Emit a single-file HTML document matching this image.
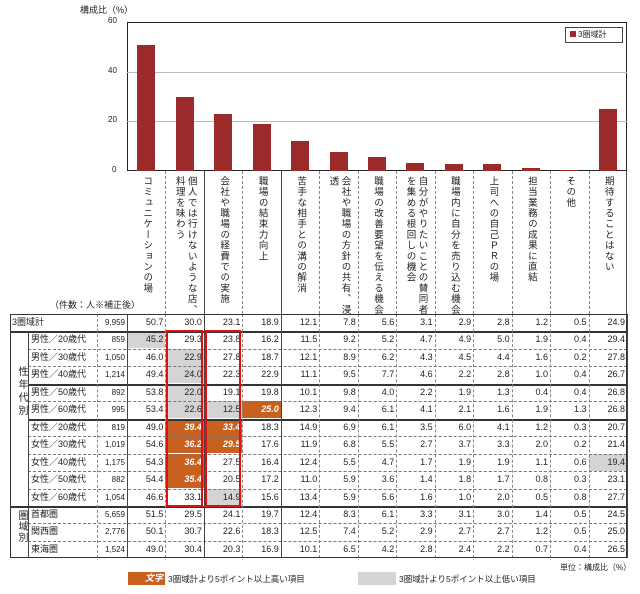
<!DOCTYPE html><html><head><meta charset="utf-8"><style>
body{margin:0;background:#fff;width:640px;height:594px;position:relative;overflow:hidden;font-family:"Liberation Sans","Noto Sans CJK JP",sans-serif;color:#222}
.a{position:absolute}
.lab{position:absolute;top:176px;writing-mode:vertical-rl;font-size:9.5px;letter-spacing:1.2px;line-height:12px}
.c{position:absolute;font-size:9px;text-align:right;line-height:17px;height:17px;box-sizing:border-box;padding-right:2px}
</style></head><body>
<div class="a" style="left:80px;top:3px;font-size:9px">構成比（%）</div>
<div class="a" style="left:127px;top:22px;width:500px;height:149px;border:1px solid #222;box-sizing:border-box"></div>
<div class="a" style="left:127px;top:72px;width:500px;border-top:1px solid #bbb"></div>
<div class="a" style="left:127px;top:121px;width:500px;border-top:1px solid #bbb"></div>
<div class="a" style="left:108px;top:16px;font-size:8px">60</div>
<div class="a" style="left:108px;top:66px;font-size:8px">40</div>
<div class="a" style="left:108px;top:115px;font-size:8px">20</div>
<div class="a" style="left:112px;top:165px;font-size:8px">0</div>
<div class="a" style="left:565px;top:27px;width:56px;height:14px;border:1px solid #444;background:#fff;font-size:8px;line-height:14px"><span style="display:inline-block;width:6px;height:6px;background:#9b2b2b;margin:0 2px 0 4px"></span>3圏域計</div>
<div id="g"></div>
<script>
const g=document.getElementById('g');let h='';
const X0=127,W=500/13;
const tot=[50.7,30.0,23.1,18.9,12.1,7.8,5.6,3.1,2.9,2.8,1.2,0.5,24.9];
tot.forEach((v,i)=>{const bh=v*149/60;h+=`<div class="a" style="left:${X0+i*W+W/2-9}px;top:${171-bh}px;width:18px;height:${bh}px;background:#9b2b2b"></div>`});
const labs=['コミュニケーションの場','個人では行けないような店、料理を味わう','会社や職場の経費での実施','職場の結束力向上','苦手な相手との溝の解消','会社や職場の方針の共有、浸透','職場の改善要望を伝える機会','自分がやりたいことの賛同者を集める根回しの機会','職場内に自分を売り込む機会','上司への自己ＰＲの場','担当業務の成果に直結','その他','期待することはない'];
const twoW=[0,1,0,0,0,1,0,1,0,0,0,0,0];
labs.forEach((t,i)=>{let w=twoW[i]?24:12;h+=`<div class="lab" style="left:${X0+i*W+W/2-w/2}px;height:140px;width:${w}px">${t}</div>`;
 if(i>0)h+=`<div class="a" style="left:${X0+i*W}px;top:171px;height:143px;border-left:1px ${[2,4].includes(i)?'solid #444':'dashed #888'}"></div>`});
h+=`<div class="a" style="left:626px;top:171px;height:143px;border-left:1px solid #444"></div>`;
h+=`<div class="a" style="left:50px;top:298px;font-size:9px">（件数：人※補正後）</div>`;
const rows=[
['3圏域計','9,959','50.7 30.0 23.1 18.9 12.1 7.8 5.6 3.1 2.9 2.8 1.2 0.5 24.9',''],
['男性／20歳代','859','45.2 29.3 23.8 16.2 11.5 9.2 5.2 4.7 4.9 5.0 1.9 0.4 29.4','g0'],
['男性／30歳代','1,050','46.0 22.9 27.8 18.7 12.1 8.9 6.2 4.3 4.5 4.4 1.6 0.2 27.8','g1'],
['男性／40歳代','1,214','49.4 24.0 22.3 22.9 11.1 9.5 7.7 4.6 2.2 2.8 1.0 0.4 26.7','g1'],
['男性／50歳代','892','53.8 22.0 19.1 19.8 10.1 9.8 4.0 2.2 1.9 1.3 0.4 0.4 26.8','g1'],
['男性／60歳代','995','53.4 22.6 12.5 25.0 12.3 9.4 6.1 4.1 2.1 1.6 1.9 1.3 26.8','g1 g2 o3'],
['女性／20歳代','819','49.0 39.4 33.4 18.3 14.9 6.9 6.1 3.5 6.0 4.1 1.2 0.3 20.7','o1 o2'],
['女性／30歳代','1,019','54.6 36.2 29.5 17.6 11.9 6.8 5.5 2.7 3.7 3.3 2.0 0.2 21.4','o1 o2'],
['女性／40歳代','1,175','54.3 36.4 27.5 16.4 12.4 5.5 4.7 1.7 1.9 1.9 1.1 0.6 19.4','o1 g12'],
['女性／50歳代','882','54.4 35.4 20.5 17.2 11.0 5.9 3.6 1.4 1.8 1.7 0.8 0.3 23.1','o1'],
['女性／60歳代','1,054','46.6 33.1 14.9 15.6 13.4 5.9 5.6 1.6 1.0 2.0 0.5 0.8 27.7','g2'],
['首都圏','5,659','51.5 29.5 24.1 19.7 12.4 8.3 6.1 3.3 3.1 3.0 1.4 0.5 24.5',''],
['関西圏','2,776','50.1 30.7 22.6 18.3 12.5 7.4 5.2 2.9 2.7 2.7 1.2 0.5 25.0',''],
['東海圏','1,524','49.0 30.4 20.3 16.9 10.1 6.5 4.2 2.8 2.4 2.2 0.7 0.4 26.5','']];
const RH=17.45,Y0=314;
rows.forEach((r,k)=>{const y=Y0+k*RH;const m=r[3].split(' ');
 h+=`<div class="a" style="left:${k==0?12:31}px;top:${y}px;line-height:17px;font-size:9px">${r[0]}</div>`;
 h+=`<div class="c" style="left:97px;top:${y}px;width:30px;font-size:8px">${r[1]}</div>`;
 r[2].split(' ').forEach((v,i)=>{let bg='',col='#222',fw='';
  if(m.includes('g'+i))bg='#d4d4d4';if(m.includes('o'+i)){bg='#c8601f';col='#fff';fw='font-weight:bold;font-style:italic;'}
  h+=`<div class="c" style="left:${X0+i*W}px;top:${y}px;width:${W}px;background:${bg||'transparent'};color:${col};${fw}">${v}</div>`});
 if(k>0){let st=[1,4,6,11].includes(k)?'2px solid #333':'1px dashed #777';let lx=(k==1||k==11)?10:28;
  h+=`<div class="a" style="left:${lx}px;top:${y}px;width:${627-lx}px;border-top:${st}"></div>`}});
for(let i=0;i<14;i++){h+=`<div class="a" style="left:${X0+i*W}px;top:${Y0}px;height:${RH*14}px;border-left:1px ${[0,2,4].includes(i)||i==13?'solid #444':'dashed #888'}"></div>`}
h+=`<div class="a" style="left:97px;top:${Y0}px;height:${RH*14}px;border-left:1px dashed #888"></div>`;
h+=`<div class="a" style="left:28px;top:${Y0+RH}px;height:${RH*13}px;border-left:1px solid #444"></div>`;
h+=`<div class="a" style="left:10px;top:${Y0}px;width:617px;height:${RH*14}px;border:1px solid #333;box-sizing:border-box"></div>`;
h+=`<div class="a" style="left:14px;top:${Y0+RH*3}px;writing-mode:vertical-rl;font-size:10px;letter-spacing:3px">性年代別</div>`;
h+=`<div class="a" style="left:14px;top:${Y0+RH*11+4}px;writing-mode:vertical-rl;font-size:10px;letter-spacing:1px">圏域別</div>`;
[1,2].forEach(i=>{h+=`<div class="a" style="left:${X0+i*W+1}px;top:${Y0+RH-1}px;width:${W-2}px;height:${RH*10+2}px;border:2px solid #e01010;box-sizing:border-box"></div>`});
document.write(h);
</script>
<div class="a" style="left:560px;top:562px;font-size:8px">単位：構成比（%）</div>
<div class="a" style="left:128px;top:572px;width:37px;height:13px;background:#c8601f;color:#fff;font-size:9px;font-style:italic;font-weight:bold;text-align:right;line-height:13px;padding-right:2px;box-sizing:border-box">文字</div>
<div class="a" style="left:168px;top:573px;font-size:8.5px">3圏域計より5ポイント以上高い項目</div>
<div class="a" style="left:358px;top:572px;width:38px;height:13px;background:#d4d4d4"></div>
<div class="a" style="left:399px;top:573px;font-size:8.5px">3圏域計より5ポイント以上低い項目</div>
</body></html>
